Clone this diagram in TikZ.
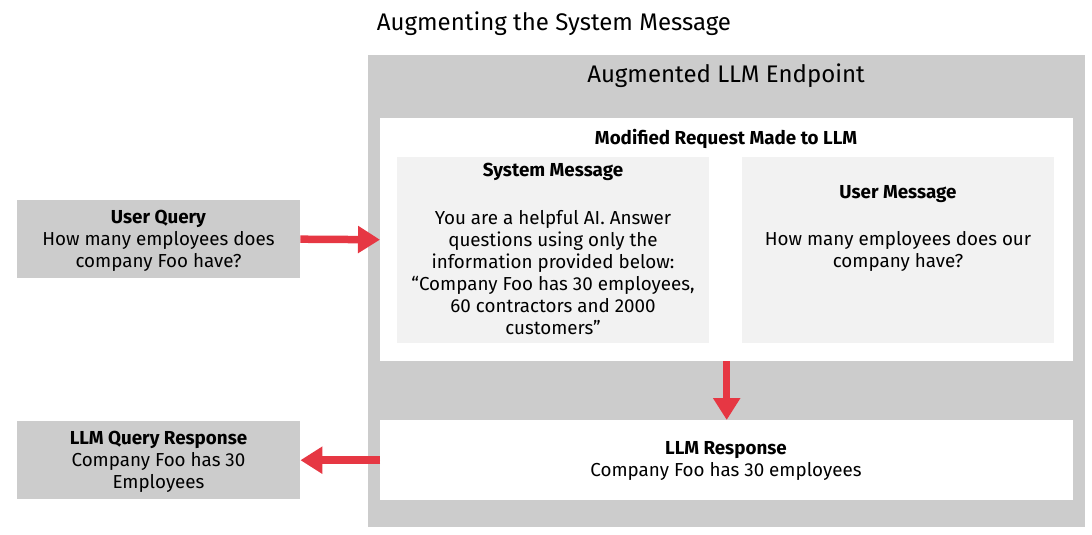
\documentclass[tikz,border=0pt]{standalone}
\usepackage{fontspec}
\setmainfont{Fira Sans}
\usetikzlibrary{arrows.meta}
\definecolor{boxgray}{HTML}{CCCCCC}
\definecolor{msggray}{HTML}{F2F2F2}
\definecolor{arrowred}{HTML}{E63743}
\begin{document}
\begin{tikzpicture}[x=1pt,y=-1pt,
  txt/.style={font=\fontsize{18.8}{22}\selectfont, align=center, inner sep=0pt},
  bold/.style={font=\bfseries\fontsize{18.8}{22}\selectfont, align=center, inner sep=0pt},
  graybox/.style={fill=boxgray, draw=none, anchor=north west, inner sep=0pt},
  whitebox/.style={fill=white, draw=none, anchor=north west, inner sep=0pt},
  msgbox/.style={fill=msggray, draw=none, anchor=north west, inner sep=0pt},
  redarrow/.style={draw=arrowred, line width=7.5pt, -{Triangle[width=26pt,length=22pt]}, fill=arrowred},
  bigtitle/.style={font=\fontsize{24}{28}\selectfont, inner sep=0pt}
]
\useasboundingbox (0,0) rectangle (1092,535);
\node[bigtitle] (title) at (554,24) {Augmenting the System Message};
\node[graybox, minimum width=717pt, minimum height=472pt] (ep) at (368,55) {};
\node[bigtitle] (eptitle) at (726,75.5) {Augmented LLM Endpoint};
\node[whitebox, minimum width=693pt, minimum height=243pt] (req) at (380,118) {};
\node[bold] (reqtitle) at (726,139) {Modified Request Made to LLM};
\node[msgbox, minimum width=312pt, minimum height=186pt] (sys) at (397,157) {};
\node[msgbox, minimum width=312pt, minimum height=186pt] (usr) at (742,157) {};
\node[bold] (systitle) at (553,172) {System Message};
\node[txt] (sysbody) at (553,273) {You are a helpful AI. Answer\\questions using only the\\information provided below:\\“Company Foo has 30 employees,\\60 contractors and 2000\\customers”};
\node[bold] (usrtitle) at (898,194) {User Message};
\node[txt] (usrbody) at (898,251.5) {How many employees does our\\company have?};
\node[whitebox, minimum width=693pt, minimum height=80pt] (resp) at (380,420) {};
\node[txt] (resptext) at (726,461) {\textbf{LLM Response}\\Company Foo has 30 employees};
\node[graybox, minimum width=283pt, minimum height=78pt] (uq) at (17,200) {};
\node[txt] (uqtext) at (158.5,241) {\textbf{User Query}\\How many employees does\\company Foo have?};
\node[graybox, minimum width=283pt, minimum height=78pt] (lqr) at (17,421) {};
\node[txt] (lqrtext) at (158.5,462) {\textbf{LLM Query Response}\\Company Foo has 30\\Employees};
\draw[redarrow] (uq.east) -- (req.west);
\draw[redarrow] (req.south) -- (resp.north);
\draw[redarrow] (resp.west) -- (lqr.east);
\end{tikzpicture}
\end{document}
